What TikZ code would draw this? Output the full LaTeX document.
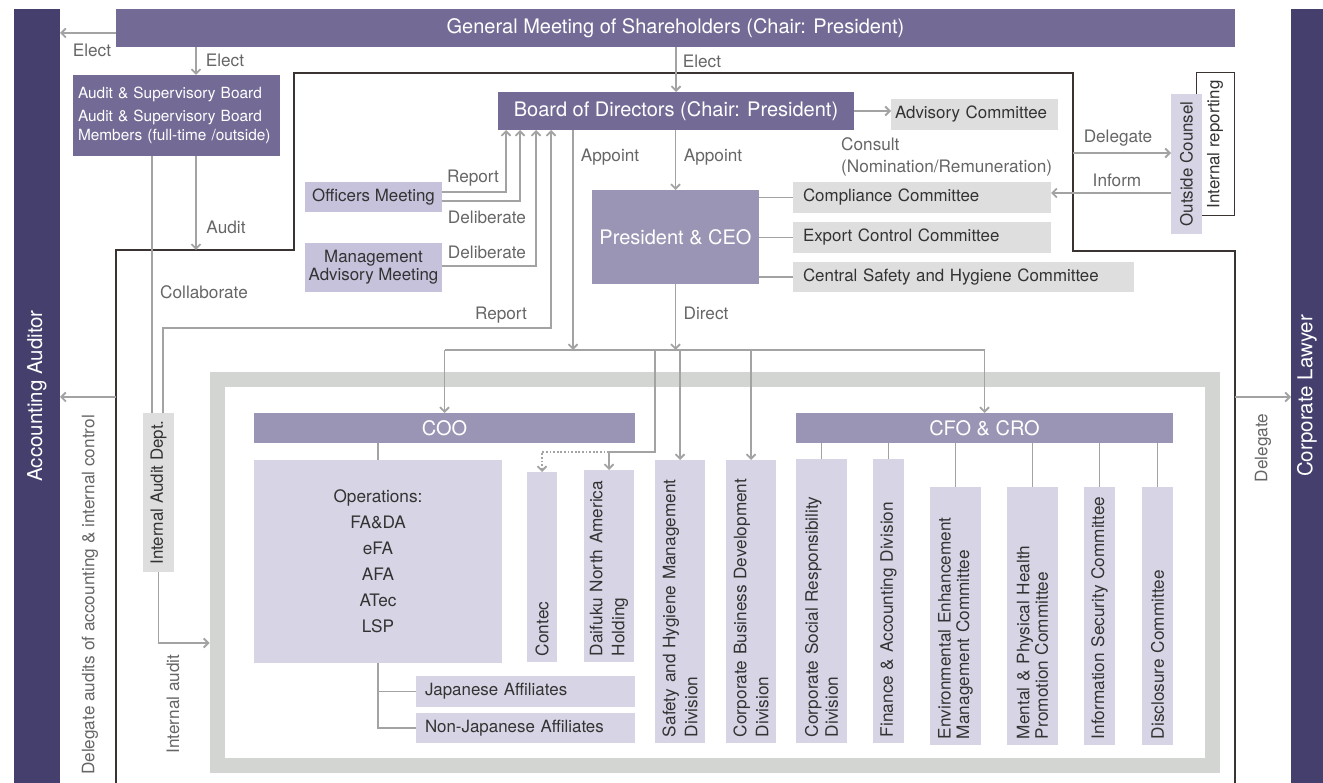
\documentclass[tikz,border=0pt]{standalone}
\usepackage{fontspec}
\setmainfont{TeX Gyre Heros}
\usetikzlibrary{arrows.meta,calc}
\definecolor{barpurple}{HTML}{453F6E}
\definecolor{midpurple}{HTML}{736B96}
\definecolor{lightpurple}{HTML}{9A95B5}
\definecolor{meetpurple}{HTML}{C6C2DB}
\definecolor{palepurple}{HTML}{D7D5E5}
\definecolor{boxgray}{HTML}{DDDEDD}
\definecolor{framegray}{HTML}{D3D5D3}
\definecolor{linegray}{HTML}{A3A3A3}
\definecolor{blackline}{HTML}{3B3331}
\definecolor{txtdark}{HTML}{333333}
\definecolor{txtlabel}{HTML}{666666}
\begin{document}
\begin{tikzpicture}[x=1pt,y=-1pt,
  box/.style={inner sep=0pt, outer sep=0pt},
  bigw/.style={box, text=white, font=\fontsize{20}{23}\selectfont},
  dk/.style={box, text=txtdark, font=\fontsize{16.9}{20}\selectfont},
  vbox/.style={dk, fill=palepurple, rotate=90, align=left, inner xsep=6pt, font=\fontsize{17.2}{20}\selectfont},
  lbl/.style={inner sep=0pt, text=txtlabel, font=\fontsize{17.2}{20}\selectfont},
  ln/.style={draw=linegray, line width=1.8pt},
  arr/.style={ln, -{Straight Barb[length=4.5pt,width=9pt]}},
  dotarr/.style={arr, dash pattern=on 1.8pt off 1.8pt},
  frameline/.style={draw=blackline, line width=1.6pt}]
\useasboundingbox (0,0) rectangle (1323,783);

% gray frame
\node[draw=framegray, line width=15pt, minimum width=995pt, minimum height=385.5pt, inner sep=0pt] (gf) at (714.5,572.25) {};

% black frame
\coordinate (fA) at (116,790);
\coordinate (fB) at (116,250);
\coordinate (fC) at (294,250);
\coordinate (fD) at (294,73);
\coordinate (fE) at (1073,73);
\coordinate (fF) at (1073,251);
\coordinate (fG) at (1235,251);
\coordinate (fH) at (1235,790);
\draw[frameline] (fA) -- (fB) -- (fC) -- (fD) -- (fE) -- (fF) -- (fG) -- (fH);

% side bars
\node[box, fill=barpurple, text=white, font=\fontsize{20.5}{24}\selectfont, rotate=90, minimum width=774pt, minimum height=46pt] (accbar) at (37,396) {Accounting Auditor};
\node[box, fill=barpurple, text=white, font=\fontsize{20.5}{24}\selectfont, rotate=90, minimum width=774pt, minimum height=32pt] (lawbar) at (1307,396) {Corporate Lawyer};

% top
\node[bigw, fill=midpurple, minimum width=1119pt, minimum height=38pt] (gms) at (675.5,28) {General Meeting of Shareholders (Chair: President)};
\node[box, fill=midpurple, text=white, font=\fontsize{15.4}{19}\selectfont, minimum width=207pt, minimum height=81pt, align=left, text width=197pt] (audit) at (176.5,115.5) {Audit \& Supervisory Board\\[4pt]Audit \& Supervisory Board\\Members (full-time /outside)};
\node[bigw, fill=midpurple, minimum width=356pt, minimum height=38pt] (bod) at (676,111) {Board of Directors (Chair: President)};
\node[dk, fill=boxgray, minimum width=167pt, minimum height=31pt, text width=159pt, align=left] (adv) at (974.5,114.5) {\hyphenpenalty=10000 Advisory Committee};
\node[bigw, fill=lightpurple, minimum width=167pt, minimum height=94pt] (pres) at (675.5,237) {President \& CEO};
\node[dk, fill=boxgray, minimum width=258pt, minimum height=31pt, text width=238pt, align=left] (comp) at (922,197.5) {Compliance Committee};
\node[dk, fill=boxgray, minimum width=258pt, minimum height=31pt, text width=238pt, align=left] (exp) at (922,237.5) {Export Control Committee};
\node[dk, fill=boxgray, minimum width=341pt, minimum height=30pt, text width=321pt, align=left] (csh) at (963.5,277) {Central Safety and Hygiene Committee};
\node[dk, fill=meetpurple, minimum width=137pt, minimum height=30pt, align=center] (off) at (373.5,197) {Officers Meeting};
\node[dk, fill=meetpurple, minimum width=137pt, minimum height=49pt, align=center, font=\fontsize{16.9}{18}\selectfont] (mgmt) at (373.5,267.5) {Management\\Advisory Meeting};
\node[dk, fill=white, draw=blackline, line width=1pt, rotate=90, minimum width=143pt, minimum height=38pt] (irep) at (1215,144.5) {Internal reporting};
\node[dk, fill=palepurple, rotate=90, minimum width=140pt, minimum height=31pt] (oc) at (1186.5,164) {Outside Counsel};
\node[dk, fill=boxgray, rotate=90, minimum width=159pt, minimum height=31pt] (iad) at (158.5,492.5) {Internal Audit Dept.};

% inner organisation
\node[bigw, fill=lightpurple, minimum width=381pt, minimum height=30pt] (coo) at (444.5,428) {COO};
\node[bigw, fill=lightpurple, minimum width=377pt, minimum height=30pt] (cfo) at (984.5,428) {CFO \& CRO};
\node[dk, fill=palepurple, minimum width=248pt, minimum height=203pt, align=center, font=\fontsize{17.2}{26}\selectfont] (ops) at (378,561.5) {Operations:\\FA\&DA\\eFA\\AFA\\ATec\\LSP};
\node[dk, fill=palepurple, minimum width=219pt, minimum height=31pt, text width=201pt, align=left] (jaff) at (525.5,691.5) {Japanese Affiliates};
\node[dk, fill=palepurple, minimum width=219pt, minimum height=30pt, text width=201pt, align=left] (naff) at (525.5,728) {Non-Japanese Affiliates};
\node[vbox, minimum height=30pt, text width=178pt] (contec) at (542,567) {Contec};
\node[vbox, minimum height=50pt, text width=180pt, font=\fontsize{17.2}{22}\selectfont] (daif) at (609,566) {Daifuku North America\\Holding};
\node[vbox, minimum height=50pt, text width=271pt, font=\fontsize{17.2}{22}\selectfont] (safety) at (680,601.5) {Safety and Hygiene Management\\Division};
\node[vbox, minimum height=50pt, text width=271pt, font=\fontsize{17.2}{22}\selectfont] (cbd) at (751,601.5) {Corporate Business Development\\Division};
\node[vbox, minimum height=51pt, text width=272pt, font=\fontsize{17.2}{20}\selectfont] (csr) at (821.5,601) {Corporate Social Responsibility\\Division};
\node[vbox, minimum height=31pt, text width=272pt] (fa) at (888.5,601) {Finance \& Accounting Division};
\node[vbox, minimum height=51pt, text width=246pt, font=\fontsize{17.2}{18.5}\selectfont] (env) at (955.5,616) {Environmental Enhancement\\Management Committee};
\node[vbox, minimum height=51pt, text width=246pt, font=\fontsize{17.2}{18.5}\selectfont] (ment) at (1032.5,616) {Mental \& Physical Health\\Promotion Committee};
\node[vbox, minimum height=31pt, text width=246pt] (info) at (1099.5,616) {Information Security Committee};
\node[vbox, minimum height=31pt, text width=246pt] (disc) at (1157.5,616) {Disclosure Committee};

% helper coordinates
\coordinate (c1) at ($(gms.west)+(0,5)$);
\coordinate (c2) at ($(audit.north)+(19.5,0)$);
\coordinate (apx) at (573,0);
\coordinate (busy) at (0,350);
\coordinate (dkx) at (655,0);
\coordinate (dky) at (0,452);
\coordinate (o1) at ($(off.east)+(0,-5)$);
\coordinate (o2) at ($(off.east)+(0,4)$);
\coordinate (o3) at ($(mgmt.east)+(0,-1.5)$);
\coordinate (r1) at (506,0);
\coordinate (r2) at (520,0);
\coordinate (r3) at (536,0);
\coordinate (r4) at (551,0);
\coordinate (ry) at (0,328);
\coordinate (ia1) at ($(iad.east)+(-6.5,0)$);
\coordinate (ia2) at ($(iad.east)+(4.5,0)$);
\coordinate (iay) at (0,643);
\coordinate (acy) at (0,397);
\coordinate (dly) at (0,153);
\coordinate (iny) at (0,193);

% connectors
\draw[arr] (c1) -- (c1 -| accbar.south);
\draw[arr] (c2 |- gms.south) -- (c2);
\draw[arr] (gms.south -| bod.north) -- (bod.north);
\draw[arr] (bod.east) -- (bod.east -| adv.west);
\draw[arr] (bod.south -| pres.north) -- (pres.north);
\draw[arr] (apx |- bod.south) -- (apx |- busy);
\draw[arr] (pres.south) -- (pres.south |- busy);
\draw[ln] (coo.north |- busy) -- (cfo.north |- busy);
\draw[arr] (coo.north |- busy) -- (coo.north);
\draw[arr] (cfo.north |- busy) -- (cfo.north);
\draw[arr] (safety.east |- busy) -- (safety.east);
\draw[arr] (cbd.east |- busy) -- (cbd.east);
\draw[arr] (dkx |- busy) -- (dkx |- dky) -- (daif.east |- dky) -- (daif.east);
\draw[dotarr] (daif.east |- dky) -- (contec.east |- dky) -- (contec.east);
\draw[ln] (pres.east |- comp.west) -- (comp.west);
\draw[ln] (pres.east |- exp.west) -- (exp.west);
\draw[ln] (pres.east |- csh.west) -- (csh.west);
\draw[arr] (o1) -- (o1 -| r1) -- (r1 |- bod.south);
\draw[arr] (o2) -- (o2 -| r2) -- (r2 |- bod.south);
\draw[arr] (o3) -- (o3 -| r3) -- (r3 |- bod.south);
\draw[arr] (ia2) -- (ia2 |- ry) -- (r4 |- ry) -- (r4 |- bod.south);
\draw[ln] (ia1 |- audit.south) -- (ia1);
\draw[arr] (c2 |- audit.south) -- (c2 |- fB);
\draw[arr] (iad.west) -- (iad.west |- iay) -- (gf.west |- iay);
\draw[arr] (fA |- acy) -- (accbar.south |- acy);
\draw[arr] (fH |- acy) -- (lawbar.north |- acy);
\draw[arr] (fE |- dly) -- (oc.north |- dly);
\draw[arr] (oc.north |- iny) -- (comp.east |- iny);
\draw[ln] (coo.south -| ops.north) -- (ops.north);
\draw[ln] (ops.south) -- (ops.south |- naff.west) -- (naff.west);
\draw[ln] (ops.south |- jaff.west) -- (jaff.west);
\foreach \b in {csr,fa,env,ment,info,disc} {\draw[ln] (cfo.south -| \b.center) -- (\b.east);}

% labels
\node[lbl] (lElect1) at (92,50) {Elect};
\node[lbl] (lElect2) at (225,60) {Elect};
\node[lbl] (lElect3) at (702,61) {Elect};
\node[lbl] (lAudit) at (226,227) {Audit};
\node[lbl] (lCollab) at (204,292) {Collaborate};
\node[lbl] (lRep1) at (473,178) {Report};
\node[lbl] (lDel1) at (487,217) {Deliberate};
\node[lbl] (lDel2) at (487,252) {Deliberate};
\node[lbl] (lRep2) at (501,315) {Report};
\node[lbl] (lApp1) at (610,157) {Appoint};
\node[lbl] (lApp2) at (713,157) {Appoint};
\node[lbl] (lDirect) at (706,313) {Direct};
\node[lbl, align=left, anchor=west, font=\fontsize{17.2}{22}\selectfont] (lConsult) at (841,157) {Consult\\(Nomination/Remuneration)};
\node[lbl] (lDelegate) at (1118,138) {Delegate};
\node[lbl] (lInform) at (1117,180) {Inform};
\node[lbl, rotate=90] (lIntAudit) at (173,704) {Internal audit};
\node[lbl, rotate=90] (lDelAud) at (90,595) {Delegate audits of accounting \& internal control};
\node[lbl, rotate=90] (lDelegate2) at (1263,448) {Delegate};
\end{tikzpicture}
\end{document}
